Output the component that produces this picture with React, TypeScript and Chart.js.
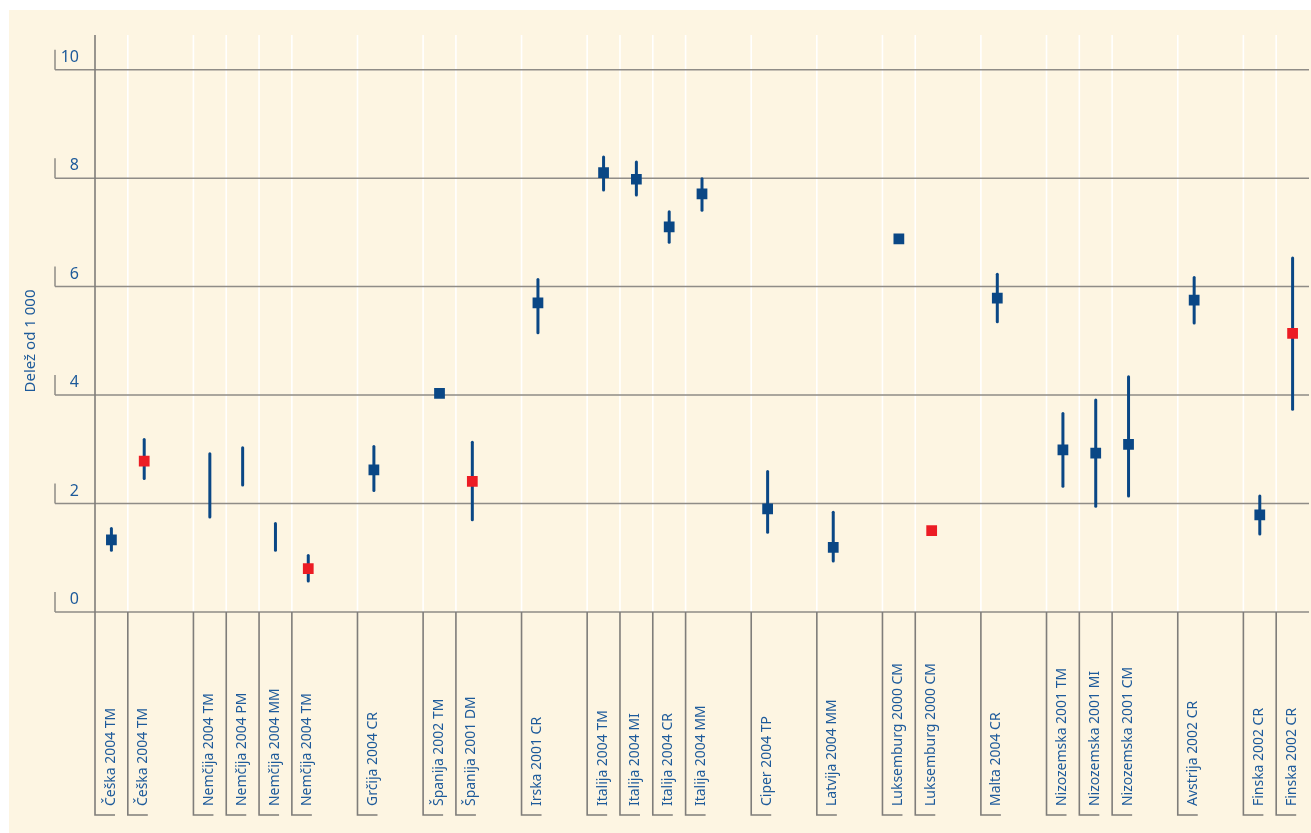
import React, { useEffect, useRef } from "react";
import { Chart, registerables } from "chart.js";

Chart.register(...registerables);

// 37 category slots; empty strings are spacer slots between country groups
const categories: string[] = [
  "Češka 2004 TM", "Češka 2004 TM", "",
  "Nemčija 2004 TM", "Nemčija 2004 PM", "Nemčija 2004 MM", "Nemčija 2004 TM", "",
  "Grčija 2004 CR", "",
  "Španija 2002 TM", "Španija 2001 DM", "",
  "Irska 2001 CR", "",
  "Italija 2004 TM", "Italija 2004 MI", "Italija 2004 CR", "Italija 2004 MM", "",
  "Ciper 2004 TP", "",
  "Latvija 2004 MM", "",
  "Luksemburg 2000 CM", "Luksemburg 2000 CM", "",
  "Malta 2004 CR", "",
  "Nizozemska 2001 TM", "Nizozemska 2001 MI", "Nizozemska 2001 CM", "",
  "Avstrija 2002 CR", "",
  "Finska 2002 CR", "Finska 2002 CR",
];

const blueValues: (number | null)[] = [
  1.33, null, null,
  null, null, null, null, null,
  2.62, null,
  4.03, null, null,
  5.70, null,
  8.10, 7.98, 7.10, 7.71, null,
  1.90, null,
  1.19, null,
  6.88, null, null,
  5.79, null,
  2.99, 2.93, 3.09, null,
  5.75, null,
  1.79, null,
];

const redValues: (number | null)[] = [
  null, 2.78, null,
  null, null, null, 0.80, null,
  null, null,
  null, 2.41, null,
  null, null,
  null, null, null, null, null,
  null, null,
  null, null,
  null, 1.50, null,
  null, null,
  null, null, null, null,
  null, null,
  null, 5.14,
];

const lowerBounds: (number | null)[] = [
  1.14, 2.46, null,
  1.75, 2.34, 1.14, 0.57, null,
  2.24, null,
  null, 1.70, null,
  5.15, null,
  7.78, 7.69, 6.82, 7.41, null,
  1.47, null,
  0.94, null,
  null, null, null,
  5.35, null,
  2.32, 1.95, 2.14, null,
  5.33, null,
  1.44, 3.74,
];

const upperBounds: (number | null)[] = [
  1.54, 3.18, null,
  2.92, 3.03, 1.63, 1.04, null,
  3.05, null,
  null, 3.13, null,
  6.13, null,
  8.39, 8.30, 7.38, 7.99, null,
  2.59, null,
  1.84, null,
  null, null, null,
  6.23, null,
  3.66, 3.91, 4.34, null,
  6.17, null,
  2.14, 6.53,
];

const yTicks: number[] = [0, 2, 4, 6, 8, 10];
const yTitle = "Delež od 1 000";

const CREAM = "#fdf5e2";
const TEXT_BLUE = "#1d5a9a";
const MARK_BLUE = "#0a4785";
const MARK_RED = "#ec1c24";
const GRID = "#8f8c87";
const AXIS = "#7f7d7a";
const FONT = '"Noto Sans", "DejaVu Sans", sans-serif';

const customDraw = {
  id: "customDraw",
  beforeDraw(chart: any) {
    const { ctx, chartArea } = chart;
    const xs = chart.scales.x;
    const ys = chart.scales.y;
    ctx.save();
    ctx.fillStyle = CREAM;
    ctx.fillRect(9, 10, chart.width - 9, chart.height - 10);

    const top = chartArea.top;
    const bottom = ys.getPixelForValue(0);
    const labelFoot = 815;

    // white slot separators
    ctx.strokeStyle = "#ffffff";
    ctx.lineWidth = 1.6;
    categories.forEach((c, i) => {
      if (!c || i === 0) return;
      const x = xs.getPixelForValue(i - 0.5);
      ctx.beginPath();
      ctx.moveTo(x, top);
      ctx.lineTo(x, bottom);
      ctx.stroke();
    });

    // horizontal grid lines + tick marks + tick labels
    ctx.strokeStyle = GRID;
    ctx.lineWidth = 1.5;
    const leftX = chartArea.left - 40;
    yTicks.forEach((t) => {
      const y = ys.getPixelForValue(t);
      ctx.beginPath();
      ctx.moveTo(leftX, y);
      ctx.lineTo(chartArea.right, y);
      ctx.moveTo(leftX, y);
      ctx.lineTo(leftX, y - 20);
      ctx.stroke();
      ctx.fillStyle = TEXT_BLUE;
      ctx.font = "16px " + FONT;
      ctx.textAlign = "right";
      ctx.textBaseline = "alphabetic";
      ctx.fillText(String(t), chartArea.left - 16, y - 8);
    });

    // axis + label brackets
    ctx.strokeStyle = AXIS;
    ctx.lineWidth = 1.6;
    ctx.beginPath();
    ctx.moveTo(chartArea.left, top);
    ctx.lineTo(chartArea.left, bottom);
    ctx.stroke();
    categories.forEach((c, i) => {
      if (!c) return;
      const x = xs.getPixelForValue(i - 0.5);
      ctx.beginPath();
      ctx.moveTo(x, bottom);
      ctx.lineTo(x, labelFoot);
      ctx.lineTo(x + 20, labelFoot);
      ctx.stroke();
      ctx.save();
      ctx.translate(x + 19.5, 806);
      ctx.rotate(-Math.PI / 2);
      ctx.scale(0.93, 1);
      ctx.fillStyle = TEXT_BLUE;
      ctx.font = "15px " + FONT;
      ctx.textAlign = "left";
      ctx.textBaseline = "alphabetic";
      ctx.fillText(c, 0, 0);
      ctx.restore();
    });

    // y title
    ctx.save();
    ctx.translate(31, 341);
    ctx.rotate(-Math.PI / 2);
    ctx.fillStyle = TEXT_BLUE;
    ctx.font = "15px " + FONT;
    ctx.textAlign = "center";
    ctx.textBaseline = "middle";
    ctx.fillText(yTitle, 0, 0);
    ctx.restore();
    ctx.restore();
  },
  beforeDatasetsDraw(chart: any) {
    const { ctx } = chart;
    const xs = chart.scales.x;
    const ys = chart.scales.y;
    ctx.save();
    ctx.strokeStyle = MARK_BLUE;
    ctx.lineWidth = 3;
    ctx.lineCap = "round";
    categories.forEach((_c, i) => {
      const lo = lowerBounds[i];
      const hi = upperBounds[i];
      if (lo == null || hi == null) return;
      const x = xs.getPixelForValue(i);
      ctx.beginPath();
      ctx.moveTo(x, ys.getPixelForValue(lo));
      ctx.lineTo(x, ys.getPixelForValue(hi));
      ctx.stroke();
    });
    ctx.restore();
  },
};

export default function App() {
  const ref = useRef<HTMLCanvasElement>(null);
  useEffect(() => {
    if (!ref.current) return;
    const chart = new Chart(ref.current, {
      type: "line",
      data: {
        labels: categories,
        datasets: [
          {
            label: "blue",
            data: blueValues,
            showLine: false,
            pointStyle: "rect",
            pointRadius: 7.6,
            backgroundColor: MARK_BLUE,
            borderWidth: 0,
          },
          {
            label: "red",
            data: redValues,
            showLine: false,
            pointStyle: "rect",
            pointRadius: 7.6,
            backgroundColor: MARK_RED,
            borderWidth: 0,
          },
        ],
      },
      options: {
        responsive: false,
        animation: false,
        events: [],
        layout: { autoPadding: false, padding: { left: 95, top: 35, right: 2, bottom: 221 } },
        plugins: { legend: { display: false }, tooltip: { enabled: false } },
        scales: {
          x: { type: "category", offset: true, display: false },
          y: { min: 0, max: 10.64, display: false },
        },
      },
      plugins: [customDraw],
    });
    return () => chart.destroy();
  }, []);
  return (
    <div style={{ position: "fixed", left: 0, top: 0, width: 1311, height: 833, background: "#ffffff" }}>
      <canvas ref={ref} width={1311} height={833} style={{ display: "block" }} />
    </div>
  );
}
